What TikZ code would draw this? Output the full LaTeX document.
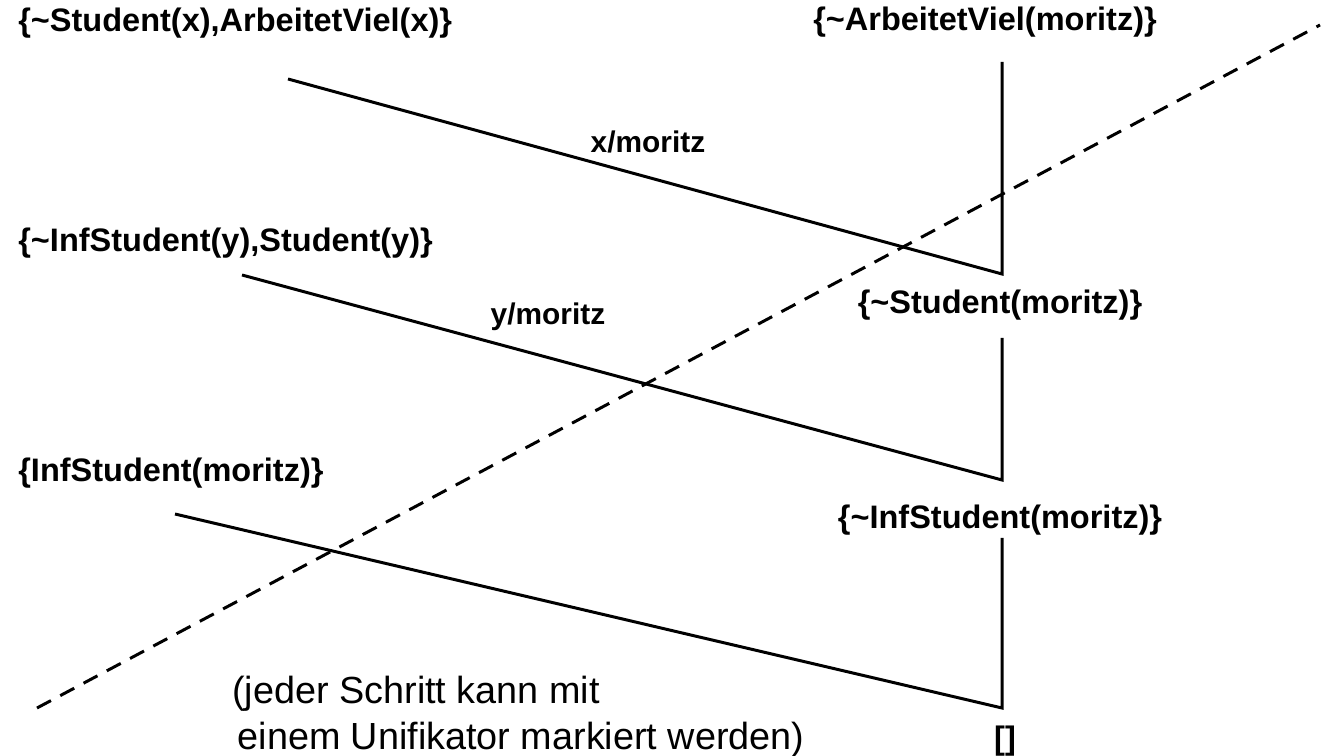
\documentclass[tikz,border=0pt]{standalone}
\usepackage{fontspec}
\setmainfont{Liberation Sans}
\begin{document}
\begin{tikzpicture}[
    x=0.02cm, y=-0.02cm,
    clause/.style={inner sep=0pt, font=\fontsize{18.5}{22}\selectfont\bfseries},
    subst/.style={inner sep=0pt, font=\fontsize{17}{20}\selectfont\bfseries},
    note/.style={inner sep=0pt, align=left, font=\fontsize{21.5}{26}\selectfont},
    edge/.style={line width=1.7pt, line join=miter},
    cut/.style={line width=1.7pt, dash pattern=on 9pt off 6pt},
]
\useasboundingbox (0,0) rectangle (1322,756);
% Eingabeklauseln (links)
\node[clause, anchor=west] (K1) at (18,23) {\{\textasciitilde Student(x),ArbeitetViel(x)\}};
\node[clause, anchor=west] (K2) at (18,243) {\{\textasciitilde InfStudent(y),Student(y)\}};
\node[clause, anchor=west] (K3) at (18,473) {\{InfStudent(moritz)\}};
% Resolventen (rechts)
\node[clause] (R0) at (985,22) {\{\textasciitilde ArbeitetViel(moritz)\}};
\node[clause] (R1) at (1000,305) {\{\textasciitilde Student(moritz)\}};
\node[clause] (R2) at (1000,520) {\{\textasciitilde InfStudent(moritz)\}};
\node[clause] (R3) at (1005,741) {[]};
% Unifikatoren
\node[subst] (U1) at (648,142) {x/moritz};
\node[subst] (U2) at (548,317) {y/moritz};
\node[note, anchor=north west] (N) at (232,676) {(jeder Schritt kann mit\\\hspace{3pt}einem Unifikator markiert werden)};

\coordinate (t1) at (1002,62);  \coordinate (k1) at (1002,274); \coordinate (s1) at (288,79);
\coordinate (t2) at (1002,338); \coordinate (k2) at (1002,480); \coordinate (s2) at (242,275);
\coordinate (t3) at (1002,538); \coordinate (k3) at (1002,708); \coordinate (s3) at (175,514);
\coordinate (d0) at (37,708);   \coordinate (d1) at (1320,25);

\draw[edge] (t1) -- (k1) -- (s1);
\draw[edge] (t2) -- (k2) -- (s2);
\draw[edge] (t3) -- (k3) -- (s3);
\draw[cut] (d0) -- (d1);
\end{tikzpicture}
\end{document}
